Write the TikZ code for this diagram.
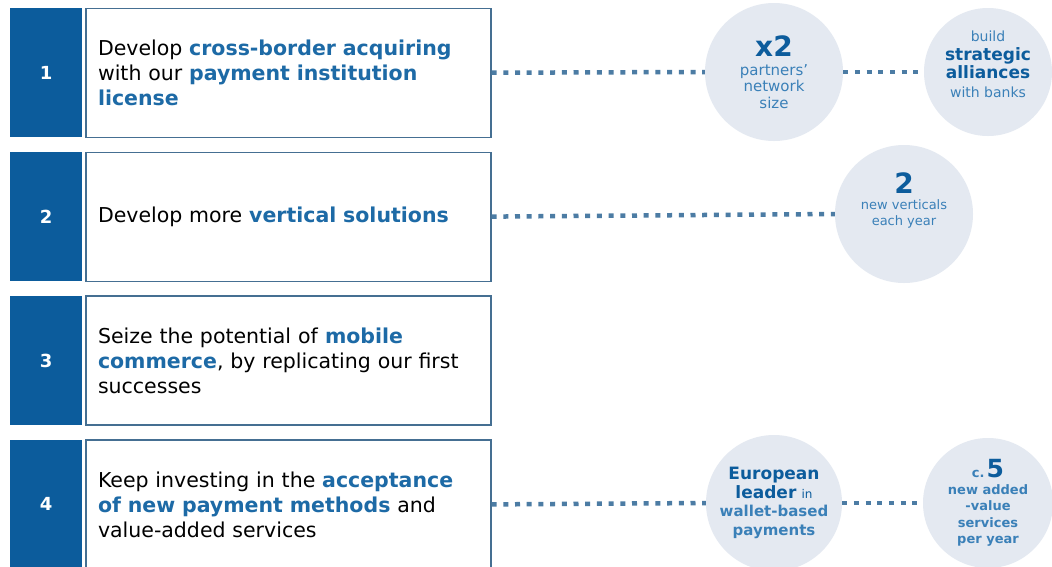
\documentclass[tikz,border=0pt]{standalone}
\usepackage{fontspec}
\setmainfont{DejaVu Sans}
\usetikzlibrary{positioning}
\definecolor{darkcell}{HTML}{0C5C9C}
\definecolor{hiblue}{HTML}{1D6AA6}
\definecolor{softblue}{HTML}{3A80B8}
\definecolor{goalfill}{HTML}{E4E9F1}
\definecolor{boxline}{HTML}{456F92}
\definecolor{dotline}{HTML}{4C7CA4}
\newcommand{\hiword}[1]{\textbf{\color{hiblue}#1}}
\newcommand{\bignum}{\fontsize{28}{28}\selectfont\bfseries\color{darkcell}}
\newcommand{\midb}{\fontsize{17}{19}\selectfont\bfseries\color{darkcell}}

\begin{document}
\begin{tikzpicture}[x=1pt,y=-1pt,font=\fontsize{20.5}{25}\selectfont]
  \tikzstyle{numcell}=[rectangle,fill=darkcell,text=white,font=\fontsize{18}{20}\selectfont\bfseries,
                       minimum width=72pt,minimum height=129pt,inner sep=0pt]
  \tikzstyle{taskbox}=[rectangle,draw=boxline,line width=1.2pt,fill=white,minimum width=405pt,
                       minimum height=129pt,text width=381pt,inner xsep=12pt,inner ysep=0pt,align=left]
  \tikzstyle{goal}=[circle,fill=goalfill,inner sep=0pt,align=center,text=softblue]
  \tikzstyle{dots}=[draw=dotline,line width=4.5pt,dash pattern=on 5pt off 6.7pt]

  \fill[white] (0,0) rectangle (1052,566);
  \useasboundingbox (0,0) rectangle (1052,566);

  % goals first, so the boxes stay on top
  \node[goal,minimum size=138pt,font=\fontsize{15}{16.5}\selectfont] (g1) at (774,72)
       {{\bignum x2}\\[2pt]partners'\\network\\size};
  \node[goal,minimum size=128pt,font=\fontsize{14}{18.5}\selectfont,text depth=16pt] (g2) at (988,72)
       {build\\{\midb strategic}\\{\midb alliances}\\with banks};
  \node[goal,minimum size=138pt,font=\fontsize{13}{16}\selectfont,text depth=30pt] (g3) at (904,214)
       {{\bignum 2}\\new verticals\\each year};
  \node[goal,minimum size=136pt,font=\fontsize{15}{18.5}\selectfont\bfseries\color{hiblue}] (g4) at (774,503)
       {{\midb European}\\{\midb leader} {\mdseries\fontsize{12}{14}\selectfont\color{darkcell}in}\\wallet-based\\payments};
  \node[goal,minimum size=130pt,font=\fontsize{13}{16.5}\selectfont\bfseries\color{hiblue}] (g5) at (988,503)
       {c.\,{\fontsize{25}{25}\selectfont\color{darkcell}5}\\new added\\-value\\services\\per year};

  \node[numcell,anchor=north west] (n1) at (10,8) {1};
  \node[numcell] (n2) [below=14.5pt of n1] {2};
  \node[numcell] (n3) [below=14.5pt of n2] {3};
  \node[numcell] (n4) [below=14.5pt of n3] {4};

  \node[taskbox] (t1) [right=3pt of n1] {Develop \hiword{cross-border acquiring}\\with our \hiword{payment institution}\\\hiword{license}};
  \node[taskbox] (t2) [right=3pt of n2] {Develop more \hiword{vertical solutions}};
  \node[taskbox] (t3) [right=3pt of n3] {Seize the potential of \hiword{mobile}\\\hiword{commerce}, by replicating our first\\successes};
  \node[taskbox] (t4) [right=3pt of n4] {Keep investing in the \hiword{acceptance}\\\hiword{of new payment methods} and\\value-added services};

  \draw[dots] (t1.east) -- (g1.west);
  \draw[dots] (g1.east) -- (g2.west);
  \draw[dots] (t2.east) -- (g3.west);
  \draw[dots] (t4.east) -- (g4.west);
  \draw[dots] (g4.east) -- (g5.west);
\end{tikzpicture}
\end{document}
